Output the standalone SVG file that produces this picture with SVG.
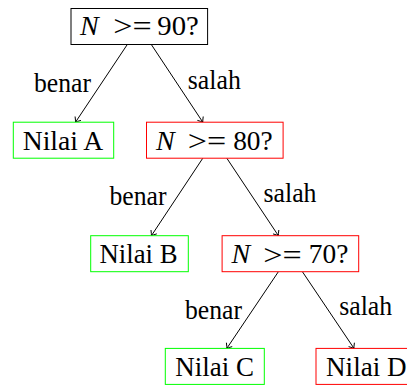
<svg xmlns="http://www.w3.org/2000/svg" width="407" height="385" viewBox="0 0 407 385">
<style>
  .box { fill: #ffffff; stroke-width: 1; }
  .blk { stroke: #000000; }
  .grn { stroke: #00ff00; }
  .red { stroke: #ff0000; }
  text { font-family: "Liberation Serif", "Times New Roman", serif; font-size: 27px; fill: #000000; }
  .it { font-style: italic; font-size: 28px; }
  .rel { font-size: 30px; }
  .edge { stroke: #000000; stroke-width: 1; fill: none; marker-end: url(#arr); }
</style>
<defs>
  <marker id="arr" markerUnits="userSpaceOnUse" markerWidth="12" markerHeight="12" refX="0" refY="0" viewBox="-6 -6 12 12" orient="auto" overflow="visible">
    <path d="M -4.5 -3.5 Q -1.2 -0.6 0 0 Q -1.2 0.6 -4.5 3.5" fill="none" stroke="#000000" stroke-width="0.9"/>
  </marker>
</defs>

<g id="connectors">
  <line class="edge" x1="127.3" y1="44.5" x2="75.5" y2="122.2"/>
  <line class="edge" x1="151.3" y1="44.5" x2="202.8" y2="122.2"/>
  <line class="edge" x1="202.8" y1="158.2" x2="151.4" y2="235.7"/>
  <line class="edge" x1="226.8" y1="158.2" x2="278.4" y2="235.7"/>
  <line class="edge" x1="278.4" y1="271.7" x2="226.8" y2="348.4"/>
  <line class="edge" x1="302.4" y1="271.7" x2="354" y2="348.4"/>
  <text x="91" y="91.5" text-anchor="end" textLength="57" lengthAdjust="spacingAndGlyphs">benar</text>
  <text x="187.8" y="89" textLength="53" lengthAdjust="spacingAndGlyphs">salah</text>
  <text x="166.5" y="205.2" text-anchor="end" textLength="57" lengthAdjust="spacingAndGlyphs">benar</text>
  <text x="263.5" y="202.2" textLength="53" lengthAdjust="spacingAndGlyphs">salah</text>
  <text x="242" y="318.5" text-anchor="end" textLength="57" lengthAdjust="spacingAndGlyphs">benar</text>
  <text x="339.2" y="315.4" textLength="53" lengthAdjust="spacingAndGlyphs">salah</text>
</g>

<g id="n90">
  <rect class="box blk" x="71" y="8.5" width="136.6" height="36"/>
  <text x="80" y="34.5" class="it">N</text>
  <text x="113.3" y="36" class="rel" textLength="38.4" lengthAdjust="spacingAndGlyphs">&gt;=</text>
  <text x="157.3" y="34.5" textLength="41.5" lengthAdjust="spacingAndGlyphs">90?</text>
</g>

<g id="nilaiA">
  <rect class="box grn" x="13.3" y="122.2" width="100.4" height="36"/>
  <text x="63" y="149.5" text-anchor="middle" textLength="80.5" lengthAdjust="spacingAndGlyphs">Nilai A</text>
</g>

<g id="n80">
  <rect class="box red" x="146.5" y="122.2" width="136.6" height="36"/>
  <text x="156" y="149.5" class="it">N</text>
  <text x="187.8" y="151" class="rel" textLength="38.4" lengthAdjust="spacingAndGlyphs">&gt;=</text>
  <text x="233.2" y="149.5" textLength="39.5" lengthAdjust="spacingAndGlyphs">80?</text>
</g>

<g id="nilaiB">
  <rect class="box grn" x="90.7" y="235.7" width="97.6" height="36"/>
  <text x="138.5" y="263" text-anchor="middle" textLength="78" lengthAdjust="spacingAndGlyphs">Nilai B</text>
</g>

<g id="n70">
  <rect class="box red" x="222.1" y="235.7" width="136.6" height="36"/>
  <text x="231.5" y="263" class="it">N</text>
  <text x="263.3" y="264.5" class="rel" textLength="38.4" lengthAdjust="spacingAndGlyphs">&gt;=</text>
  <text x="308.8" y="263" textLength="39.5" lengthAdjust="spacingAndGlyphs">70?</text>
</g>

<g id="nilaiC">
  <rect class="box grn" x="165.3" y="348.4" width="99" height="36"/>
  <text x="214.7" y="376" text-anchor="middle" textLength="78.7" lengthAdjust="spacingAndGlyphs">Nilai C</text>
</g>

<g id="nilaiD">
  <rect class="box red" x="316" y="348.4" width="100" height="36"/>
  <text x="366.3" y="376" text-anchor="middle" textLength="80.5" lengthAdjust="spacingAndGlyphs">Nilai D</text>
</g>
</svg>
